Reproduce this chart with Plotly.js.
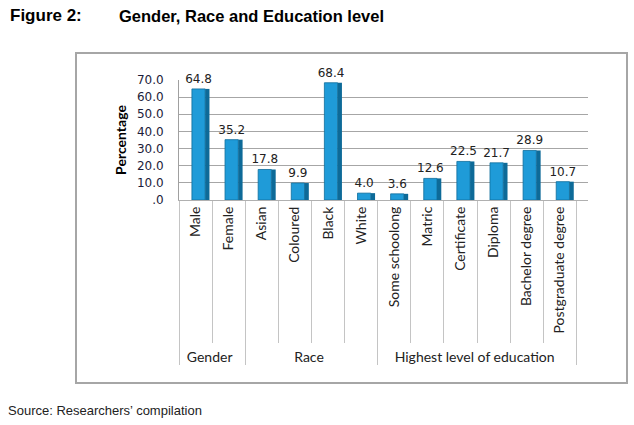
<!DOCTYPE html>
<html>
<head>
<meta charset="utf-8">
<script src="https://cdn.plot.ly/plotly-3.0.1.min.js"></script>
<style>
  body { margin: 0; background: #fff; }
  #wrap { position: relative; width: 634px; height: 425px; }
  #frame {
    position: absolute; left: 75px; top: 52px; width: 549px; height: 328px;
    border: 2px solid #a6a6a6; background: #fff;
  }
  #chart { position: absolute; left: 0; top: 0; width: 634px; height: 425px; }
</style>
</head>
<body>
<div id="wrap">
  <div id="frame"></div>
  <div id="chart"></div>
</div>
<script>
// values
const groups = ['Gender', 'Gender', 'Race', 'Race', 'Race', 'Race',
  'Highest level of education', 'Highest level of education', 'Highest level of education',
  'Highest level of education', 'Highest level of education', 'Highest level of education'];
const categories = ['Male', 'Female', 'Asian', 'Coloured', 'Black', 'White',
  'Some schoolong', 'Matric', 'Certificate', 'Diploma', 'Bachelor degree', 'Postgraduate degree'];
const percentages = [64.8, 35.2, 17.8, 9.9, 68.4, 4.0, 3.6, 12.6, 22.5, 21.7, 28.9, 10.7];

const yTickVals = [0, 10, 20, 30, 40, 50, 60, 70];
const yTickText = ['.0', '10.0', '20.0', '30.0', '40.0', '50.0', '60.0', '70.0'];

// plot box in pixels
const L = 179, R = 46, T = 80, B = 225;
const W = 634 - L - R, H = 425 - T - B;
const px = v => (v - L) / W;
const py = v => (425 - B - v) / H;

const front = {
  type: 'bar',
  x: [groups, categories],
  y: percentages,
  offset: -0.11,
  width: 0.4,
  marker: { color: '#1f9bd8', line: { color: '#0f6d9c', width: 0.8 } },
  texttemplate: '%{y:.1f}',
  textposition: 'outside',
  constraintext: 'none',
  cliponaxis: false,
  textfont: { family: 'DejaVu Sans', size: 12, color: '#222' },
  hoverinfo: 'y'
};

// darker right face to give the bars some depth
const side = {
  type: 'bar',
  x: [groups, categories],
  y: percentages,
  offset: 0.29,
  width: 0.13,
  marker: { color: '#0d6a98', line: { width: 0 } },
  hoverinfo: 'skip'
};

const layout = {
  width: 634,
  height: 425,
  margin: { l: L, r: R, t: T, b: B, pad: 0 },
  paper_bgcolor: 'rgba(0,0,0,0)',
  plot_bgcolor: 'rgba(0,0,0,0)',
  showlegend: false,
  barmode: 'overlay',
  xaxis: {
    type: 'multicategory',
    range: [-0.5, 11.85],
    tickson: 'boundaries',
    ticks: 'outside',
    ticklen: 142,
    tickcolor: '#c4c4c4',
    tickangle: -90,
    tickfont: { family: 'Lato', size: 14, color: '#222' },
    showline: true,
    linecolor: '#b0b0b0',
    showdividers: true,
    dividercolor: '#c4c4c4',
    dividerwidth: 1,
    showgrid: false
  },
  yaxis: {
    range: [0, 70],
    tickvals: yTickVals,
    ticktext: yTickText,
    tickfont: { family: 'DejaVu Sans', size: 12, color: '#1c1c3a' },
    ticks: '',
    ticklabelstandoff: 12,
    showline: true,
    linecolor: '#a0a0a0',
    gridcolor: '#a6a6a6',
    gridwidth: 1,
    zeroline: false,
    title: {
      text: 'Percentage',
      font: { family: 'Lato', size: 14, color: '#000', weight: 'bold' },
      standoff: 6
    }
  },
  annotations: [
    {
      text: 'Figure 2:', xref: 'paper', yref: 'paper',
      x: px(8), y: py(16), xanchor: 'left', yanchor: 'middle', showarrow: false,
      font: { family: 'Liberation Sans', size: 17, color: '#000', weight: 'bold' }
    },
    {
      text: 'Gender, Race and Education level', xref: 'paper', yref: 'paper',
      x: px(117), y: py(16), xanchor: 'left', yanchor: 'middle', showarrow: false,
      font: { family: 'Liberation Sans', size: 16.5, color: '#000', weight: 'bold' }
    },
    {
      text: 'Source: Researchers\u2019 compilation', xref: 'paper', yref: 'paper',
      x: px(6), y: py(410), xanchor: 'left', yanchor: 'middle', showarrow: false,
      font: { family: 'Liberation Sans', size: 13, color: '#222' }
    }
  ]
};

Plotly.newPlot('chart', [front, side], layout, { displayModeBar: false, staticPlot: true });
</script>
</body>
</html>
